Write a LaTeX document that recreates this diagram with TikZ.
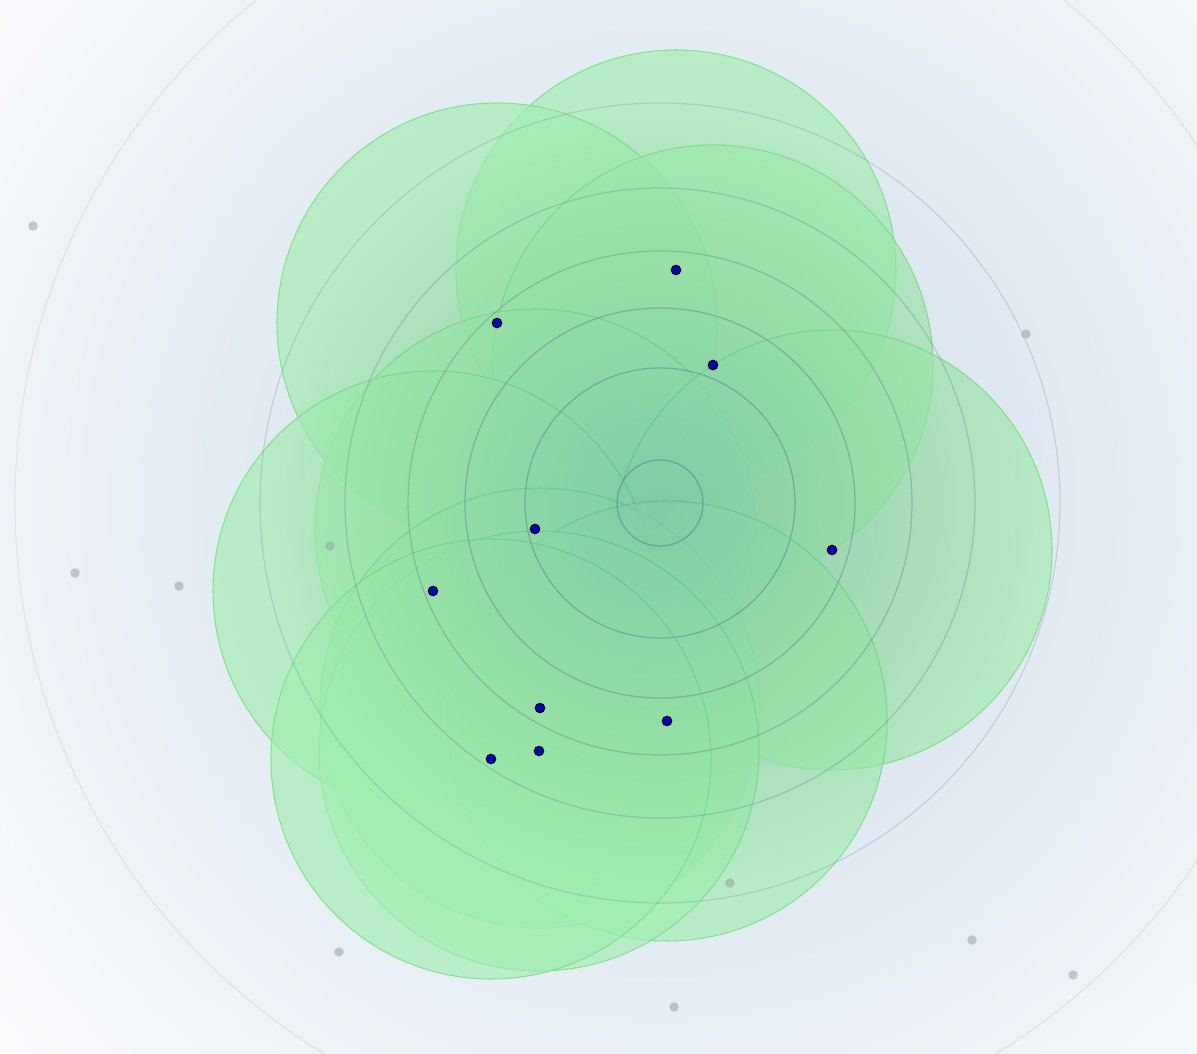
\documentclass[tikz,border=0pt]{standalone}
\usetikzlibrary{positioning}
\definecolor{bgcore}{RGB}{206,220,233}
\definecolor{bgedge}{RGB}{251,252,254}
\definecolor{glowtint}{RGB}{70,122,165}
\definecolor{zonegreen}{RGB}{162,238,176}
\definecolor{zoneedge}{RGB}{130,228,140}
\definecolor{ringline}{RGB}{80,112,140}
\definecolor{siteblue}{RGB}{0,0,205}
\definecolor{straygrey}{RGB}{150,154,160}
\tikzset{
  zone/.style = {fill=zonegreen, fill opacity=0.65, draw=zoneedge, line width=0.6pt},
  ring/.style = {draw=ringline, line width=0.7pt},
  site/.style = {circle, fill=siteblue, draw=black, line width=0.6pt, inner sep=0pt, minimum size=0.19cm},
  stray/.style = {circle, fill=straygrey, fill opacity=0.5, inner sep=0pt, minimum size=0.19cm}
}
\begin{document}
\begin{tikzpicture}[x=0.02cm, y=-0.02cm]
\useasboundingbox (0,0) rectangle (1197,1054);
\coordinate (hub) at (660,503);

% background glow
\begin{scope}
\clip (0,0) rectangle (1197,1054);
\fill[bgedge] (0,0) rectangle (1197,1054);
\foreach \r [evaluate=\r as \p using {int(min(100,(880-\r)/8.2))}] in {880,865,...,10}
  \fill[bgcore!\p!bgedge] (hub) circle (\r);
\end{scope}

% sites
\coordinate (s1) at (676,270);
\coordinate (s2) at (497,323);
\coordinate (s3) at (713,365);
\coordinate (s4) at (535,529);
\coordinate (s5) at (832,550);
\coordinate (s6) at (433,591);
\coordinate (s7) at (540,708);
\coordinate (s8) at (667,721);
\coordinate (s9) at (539,751);
\coordinate (s10) at (491,759);

% coverage zones
\foreach \s in {s1,s2,s3,s4,s5,s6,s7,s8,s9,s10}
  \draw[zone] (\s) circle (220);

% central tint, only over the zones
\begin{scope}
\clip (s1) circle (220) (s2) circle (220) (s3) circle (220) (s4) circle (220)
      (s5) circle (220) (s6) circle (220) (s7) circle (220) (s8) circle (220)
      (s9) circle (220) (s10) circle (220);
\foreach \r in {400,388,...,10}
  \fill[glowtint, fill opacity=0.0075] (hub) circle (\r);
\end{scope}

% ----- RINGS -----
\foreach \r/\o in {645/0.10, 400/0.20, 315/0.26, 252/0.32, 195/0.38, 135/0.42, 43/0.46}
  \draw[ring, draw opacity=\o] (hub) circle (\r);

% stray points
\node[stray] (g1) at (33,226) {};
\node[stray] (g2) at (1026,334) {};
\node[stray] (g3) at (75,573) {};
\node[stray] (g4) at (179,586) {};
\node[stray] (g5) at (330,546) {};
\node[stray] (g6) at (730,883) {};
\node[stray] (g7) at (972,940) {};
\node[stray] (g8) at (1073,975) {};
\node[stray] (g9) at (339,952) {};
\node[stray] (g10) at (674,1007) {};

% site markers
\foreach \s in {s1,s2,s3,s4,s5,s6,s7,s8,s9,s10}
  \node[site] at (\s) {};

\end{tikzpicture}
\end{document}
